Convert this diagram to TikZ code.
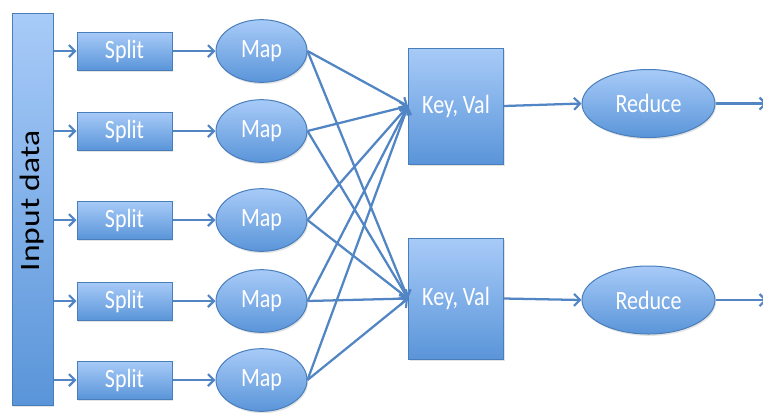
\documentclass[tikz,border=0pt]{standalone}
\usepackage{fontspec}
\setmainfont{Carlito}
\usetikzlibrary{arrows.meta,shapes.geometric,shadows}

\definecolor{shadetop}{HTML}{A8CBF8}
\definecolor{shadebot}{HTML}{5A95D9}
\definecolor{rimcol}{HTML}{4A7EBB}
\definecolor{linkcol}{HTML}{5185C4}

% Calibri-like lettering, drawn slightly taller than wide
\newcommand\tallword[1]{\scalebox{1}[1.2]{#1}}

\begin{document}
\begin{tikzpicture}[x=0.75pt,y=-0.75pt,
  bluebody/.style={draw=rimcol, line width=0.75pt,
    top color=shadetop, bottom color=shadebot,
    drop shadow={opacity=0.22, shadow xshift=0.8pt, shadow yshift=-1.4pt},
    text=white, font=\fontsize{16.5}{18}\selectfont, inner sep=0pt},
  splitbox/.style={bluebody, rectangle, minimum width=71.25pt, minimum height=28.5pt},
  mapoval/.style={bluebody, ellipse, minimum width=68.25pt, minimum height=47pt},
  kvbox/.style={bluebody, rectangle, minimum width=71.25pt, minimum height=88.5pt},
  redoval/.style={bluebody, ellipse, minimum width=99.75pt, minimum height=51pt},
  link/.style={draw=linkcol, line width=1.7pt,
    -{Straight Barb[length=4.5pt,width=9pt,line width=1.6pt]}}]

\useasboundingbox (0,0) rectangle (763,412);

% input column
\node[bluebody, rectangle, minimum width=30.75pt, minimum height=294pt,
      text=black, font=\fontsize{21}{24}\selectfont]
  (in) at (32.5,209) {\rotatebox{90}{\hspace{12pt}\scalebox{1.2}[1]{Input data}}};

% split and map stages
\foreach \i/\y in {1/51,2/131,3/220,4/301,5/380}{
  \node[splitbox] (s\i) at (124.5,\y) {\tallword{Split}};
  \node[mapoval]  (m\i) at (261.5,\y) {\tallword{Map}};
}

% grouping and reduce stages
\node[kvbox, minimum height=87pt] (k1) at (456,106) {\tallword{Key, Val}};
\node[kvbox, minimum height=90.75pt] (k2) at (456,298.5) {\tallword{Key, Val}};
\node[redoval] (r1) at (648.5,103.5) {\tallword{Reduce}};
\node[redoval] (r2) at (648.5,300) {\tallword{Reduce}};

\coordinate (o1) at (767,103.5);
\coordinate (o2) at (767,300);

% connectors
\foreach \i in {1,...,5}{
  \draw[link] (in.east |- s\i.west) -- (s\i.west);
  \draw[link] (s\i.east) -- (m\i.west);
  \draw[link] (m\i.east) -- (k1.west);
  \draw[link] (m\i.east) -- (k2.west);
}
\draw[link] (k1.east) -- (r1.west);
\draw[link] (k2.east) -- (r2.west);
\draw[link] (r1.east) -- (o1);
\draw[link] (r2.east) -- (o2);
\end{tikzpicture}
\end{document}
